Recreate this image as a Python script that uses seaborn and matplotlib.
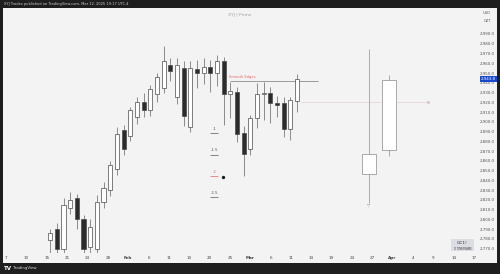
import matplotlib
matplotlib.use("Agg")
import matplotlib.pyplot as plt
import seaborn as sns
import pandas as pd
import numpy as np
from matplotlib.patches import Rectangle, FancyBboxPatch

# ---------------- data ----------------
bar_index = list(range(6, 44))
opens  = [2779, 2790, 2770, 2812, 2822, 2800, 2772, 2770, 2818, 2830, 2852,
          2892, 2885, 2905, 2920, 2912, 2928, 2935, 2958, 2925, 2955, 2895,
          2954, 2950, 2956, 2950, 2962, 2928.5, 2931, 2889, 2872, 2904, 2929,
          2929.5, 2919.3, 2919, 2892.7, 2921.4]
highs  = [2790, 2796, 2822, 2828, 2826, 2805, 2800, 2825, 2838, 2860, 2895,
          2897, 2915, 2925, 2930, 2938, 2950, 2978, 2965, 2965, 2962, 2962,
          2963, 2965, 2963, 2968, 2966, 2941, 2936, 2896, 2907, 2940, 2941,
          2935.7, 2926.5, 2925.5, 2925.5, 2949]
lows   = [2762, 2763, 2766, 2806, 2790, 2762, 2764, 2764, 2812, 2824, 2846,
          2866, 2880, 2898, 2905, 2906, 2920, 2930, 2942, 2918, 2896, 2890,
          2935, 2939, 2931, 2937, 2897, 2904, 2879, 2844, 2866, 2894, 2902,
          2899, 2905, 2884.5, 2881.4, 2910]
closes = [2786, 2770, 2815, 2820, 2800, 2770, 2792, 2818, 2832, 2856, 2888,
          2872, 2912, 2920, 2912, 2934, 2946, 2962, 2952, 2958, 2906, 2955,
          2950, 2956, 2950, 2962, 2928, 2932, 2887.5, 2867, 2904, 2928.5, 2930,
          2919.3, 2917.3, 2892.7, 2922.4, 2943.8]

# projected candles (drawn boxes on the right)
proj_x     = [53.8, 56.8]
proj_open  = [2846.6, 2871.0]
proj_close = [2867.0, 2943.0]
proj_high  = [2975.0, 2948.0]
proj_low   = [2817.0, 2865.0]

time_labels = ["7", "10", "15", "21", "24", "28", "Feb", "6", "11", "14", "20", "25",
               "Mar", "6", "11", "14", "19", "24", "27", "Apr", "4", "9", "14", "17"]
bold_labels = {"Feb", "Mar", "Apr"}
price_ticks = list(range(2770, 2991, 10))
last_price = 2943.8

fib_labels = ["-1", "-1.5", "-2", "-2.5"]
fib_prices = [2889.6, 2868.0, 2845.5, 2824.0]
fib_colors = ["#555555", "#555555", "#e06666", "#555555"]

level_smooth = 2941.5
level_pink = 2920.3

df = pd.DataFrame({"i": bar_index, "o": opens, "h": highs, "l": lows, "c": closes})

# ---------------- figure ----------------
sns.set_theme(style="white")
plt.rcParams['font.family'] = ['DejaVu Sans']
W, H = 500, 274
fig = plt.figure(figsize=(5, 2.74), dpi=100, facecolor="#1e1e1e")

def fx(x):
    return x / W

def fy(y):
    return 1 - y / H

# light panel
fig.patches.append(Rectangle((fx(3), fy(263)), fx(494), (263 - 8) / H,
                             transform=fig.transFigure, facecolor="#f3f3f3",
                             edgecolor="none", zorder=-10))

ax = fig.add_axes([fx(3), fy(253), 472 / W, 245 / H])
ax.set_zorder(1)
ax.set_facecolor("#f3f3f3")
for s in ax.spines.values():
    s.set_visible(False)

# wicks
ax.vlines(df["i"], df["l"], df["h"], color="#7a7a7a", lw=0.6, zorder=2)
up = df["c"] >= df["o"]
bottoms = np.minimum(df["o"], df["c"])
heights = np.maximum(np.abs(df["c"] - df["o"]), 0.8)
ax.bar(df["i"], heights, bottom=bottoms, width=0.62,
       color=np.where(up, "#ffffff", "#2b2b2b"), edgecolor="#4a4a4a",
       linewidth=0.5, zorder=3)

# projection candles
for x, o, c, hh, ll in zip(proj_x, proj_open, proj_close, proj_high, proj_low):
    ax.vlines(x, ll, hh, color="#a0a0a0", lw=0.6, zorder=2)
    ax.bar(x, c - o, bottom=o, width=2.05, color="#ffffff",
           edgecolor="#8a8a8a", linewidth=0.5, zorder=3)
ax.text(proj_x[0], proj_low[0] - 1.5, "\u25bd", fontsize=3, color="#888888",
        ha="center", va="top")

# horizontal levels
ax.hlines(level_smooth, 33, 46.1, color="#9a9a9a", lw=0.7, zorder=1)
ax.text(34.8, level_smooth + 2.5, "Smooth Edges", fontsize=2.6, color="#e06666",
        ha="center", va="bottom")
ax.hlines(level_pink, 43.6, 62.6, color="#e9d6dc", lw=0.6, zorder=1)
ax.plot([62.6], [level_pink], marker="o", ms=1.2, color="#dcc3cb")

# fib labels
for lab, p, col in zip(fib_labels, fib_prices, fib_colors):
    ax.text(30.6, p + 0.8, lab, fontsize=2.8, color=col, ha="center", va="bottom")
    ax.hlines(p - 1.5, 30.0, 31.2, color=col, lw=0.5)
sns.scatterplot(x=[31.9], y=[2843.5], ax=ax, color="#1a1a1a", s=5,
                marker="o", edgecolor="#1a1a1a", legend=False, zorder=4)

ax.set_xlim(-1.08, 69.7)
ax.set_ylim(2765.6, 3016.6)

# axes ticks
tick_pos = [-0.6 + 3.05 * k for k in range(len(time_labels))]
ax.set_xticks(tick_pos)
ax.set_xticklabels(time_labels)
for t in ax.get_xticklabels():
    t.set_fontsize(3)
    t.set_color("#444444")
    if t.get_text() in bold_labels:
        t.set_fontweight("bold")
ax.tick_params(axis="x", length=0, pad=2.2)

ax.yaxis.tick_right()
ax.set_yticks(price_ticks)
ax.set_yticklabels([f"{v:,.1f}" for v in price_ticks])
ax.tick_params(axis="y", length=0, pad=3.5, labelsize=2.9, labelcolor="#555555")
ax.grid(False)

# last price tag
ax.text(1.012, (last_price - 2765.6) / (3016.6 - 2765.6), f"{last_price:,.1f}",
        transform=ax.transAxes, fontsize=2.9, color="white", va="center", ha="left",
        bbox=dict(boxstyle="square,pad=0.25", fc="#1848cc", ec="none"), zorder=5)

# header / footer / watermark texts
fig.text(fx(4), fy(4), "XYJ Trades published on TradingView.com, Mar 12, 2025 19:17 UTC-4",
         fontsize=2.6, color="#cccccc", va="center", ha="left")
fig.text(fx(240), fy(15), "XYJ | Prime", fontsize=3.2, color="#a0a0a0",
         va="center", ha="center")
fig.text(fx(487), fy(12.5), "USD", fontsize=2.6, color="#555555", va="center", ha="center")
fig.text(fx(487), fy(20.5), "OZT", fontsize=2.6, color="#555555", va="center", ha="center")
fig.text(fx(4), fy(268.5), "TV", fontsize=4, color="#ffffff", fontweight="bold",
         va="center", ha="left")
fig.text(fx(13), fy(268.5), "TradingView", fontsize=2.8, color="#dddddd",
         va="center", ha="left")

# symbol box
fig.patches.append(FancyBboxPatch((fx(451), fy(251)), 23 / W, 12 / H,
                                  boxstyle="round,pad=0,rounding_size=0.003",
                                  transform=fig.transFigure, facecolor="#dcdde3",
                                  edgecolor="none", zorder=3))
fig.text(fx(462.5), fy(242.5), "GC1!", fontsize=3.2, color="#333333",
         va="center", ha="center", zorder=4)
fig.text(fx(462.5), fy(248.5), "D TIMEFRAME", fontsize=1.9, color="#444444",
         va="center", ha="center", zorder=4)

fig.savefig("out.png", dpi=100, facecolor=fig.get_facecolor())
